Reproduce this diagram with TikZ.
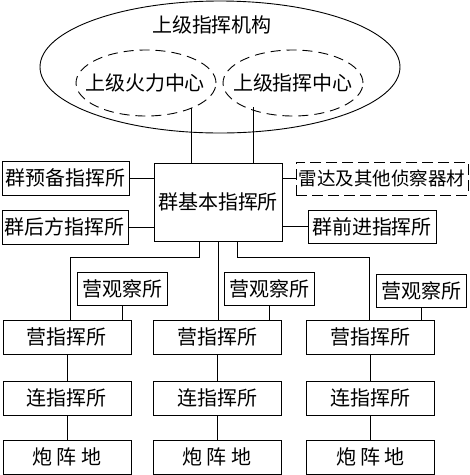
\documentclass[tikz,border=0pt]{standalone}
\usepackage{fontspec}
\setmainfont{Noto Sans CJK SC}
\usetikzlibrary{shapes.geometric,positioning}

\tikzset{
  box/.style={draw, line width=0.9pt, inner sep=0pt, minimum height=34pt, font=\fontsize{20}{22}\selectfont},
  label text/.style={inner sep=0pt, font=\fontsize{20}{22}\selectfont},
  ring/.style={line width=0.9pt, dash pattern=on 10pt off 6pt},
  link/.style={line width=0.9pt}
}

\begin{document}
\begin{tikzpicture}[x=1pt, y=-1pt]
    \useasboundingbox (0,0) rectangle (470,475);

    % upper command
    \draw[line width=0.9pt] (220,67) ellipse [x radius=180pt, y radius=66pt];
    \node[label text] (sjtitle) at (212,25) {上级指挥机构};
    \node[label text] (huoli) at (145,83) {上级火力中心};
    \node[label text] (zhihui) at (293,83) {上级指挥中心};
    \draw[ring] (146,83) ellipse [x radius=70pt, y radius=33pt];
    \draw[ring] (293,83) ellipse [x radius=70pt, y radius=33pt];
    \coordinate (huolib) at (191,108);
    \coordinate (zhihuib) at (253,107);

    % group posts
    \node[box, minimum width=128pt, minimum height=78pt] (jiben) at (218,202) {群基本指挥所};
    \node[box, minimum width=127pt] (yubei) at (65.5,178) {群预备指挥所};
    \node[box, minimum width=126pt] (houfang) at (65,227) {群后方指挥所};
    \node[box, minimum width=172pt, minimum height=33pt, dash pattern=on 11pt off 5pt, font=\fontsize{18.5}{22}\selectfont] (leida) at (382,178.5) {雷达及其他侦察器材};
    \node[box, minimum width=128pt, minimum height=33pt] (qianjin) at (372,226.5) {群前进指挥所};

    \draw[link] (huolib) -- (huolib |- jiben.north);
    \draw[link] (zhihuib) -- (zhihuib |- jiben.north);
    \draw[link] (yubei) -- (yubei -| jiben.west);
    \draw[link] (houfang) -- (houfang -| jiben.west);
    \draw[link] (leida.west) -- (leida.west -| jiben.east);
    \draw[link] (qianjin.west) -- (qianjin.west -| jiben.east);

    % battalions
    \foreach \i/\x/\gx/\gy in {1/67/122/288.5, 2/217/269.5/288.5, 3/370.5/421/291} {
      \node[box, minimum width=90pt, minimum height=33pt] (guan\i) at (\gx,\gy) {营观察所};
      \node[box, minimum width=128pt] (ying\i) at (\x,337) {营指挥所};
      \node[box, minimum width=128pt] (lian\i) at (\x,398) {连指挥所};
      \node[box, minimum width=128pt] (pao\i) at (\x,457) {炮 阵 地};
      \draw[link] (guan\i) -- (guan\i |- ying\i.north);
      \draw[link] (ying\i) -- (lian\i);
      \draw[link] (lian\i) -- (pao\i);
    }

    \draw[link] ([xshift=-19pt]jiben.south) -- ++(0,16) -| ([xshift=3pt]ying1.north);
    \draw[link] (jiben.south) -- (jiben.south |- ying2.north);
    \draw[link] ([xshift=19pt]jiben.south) -- ++(0,16) -| ([xshift=-1.5pt]ying3.north);
  \end{tikzpicture}
\end{document}
